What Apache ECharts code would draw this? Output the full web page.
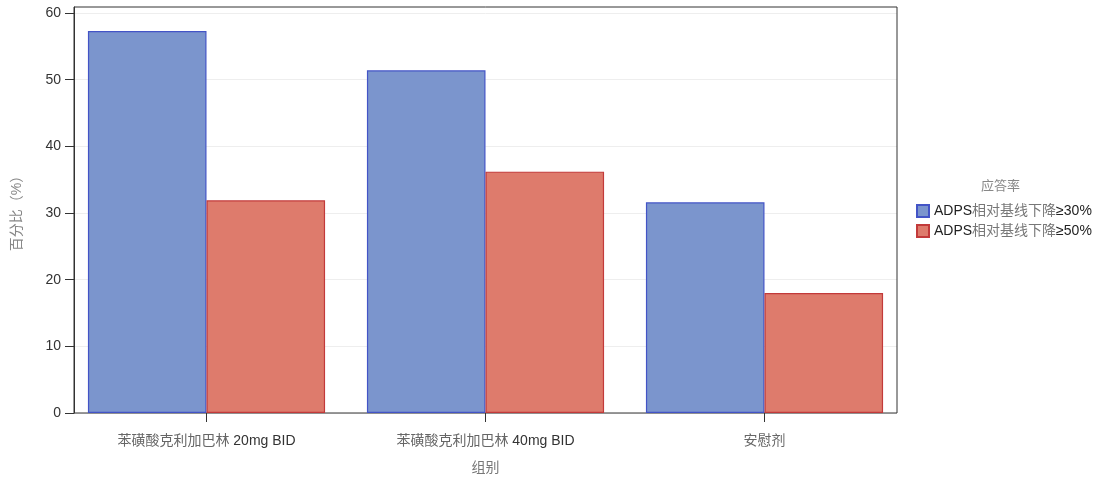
<!DOCTYPE html>
<html>
<head>
<meta charset="utf-8">
<script src="https://cdn.jsdelivr.net/npm/echarts@6/dist/echarts.min.js"></script>
<style>html,body{margin:0;padding:0;background:#fff}#c{width:1097px;height:484px}</style>
</head>
<body>
<div id="c"></div>
<script>
const categories = ['苯磺酸克利加巴林 20mg BID', '苯磺酸克利加巴林 40mg BID', '安慰剂'];
const seriesNames = ['ADPS相对基线下降≥30%', 'ADPS相对基线下降≥50%'];
const values30 = [57.3, 51.4, 31.6];
const values50 = [31.9, 36.2, 18.0];
const yTicks = [0, 10, 20, 30, 40, 50, 60];
const legendTitle = '应答率';
const yName = '百分比（%）';
const xName = '组别';

const FONT = '"Liberation Sans", "Noto Sans CJK SC", sans-serif';
const YMAX = 60.9;

// style CJK runs lighter, latin runs darker (as in the reference)
function richify(s) {
  return s.replace(/([\u3000-\u9fff\uff00-\uffef]+)|([^\u3000-\u9fff\uff00-\uffef]+)/g,
    (m, c, l) => c ? '{c|' + c + '}' : '{l|' + l + '}');
}
function richStyles(size, cjkColor, latinColor) {
  return {
    c: { color: cjkColor, fontSize: size, fontFamily: FONT },
    l: { color: latinColor, fontSize: size, fontFamily: FONT }
  };
}

const chart = echarts.init(document.getElementById('c'));
chart.setOption({
  animation: false,
  textStyle: { fontFamily: FONT },
  grid: [
    { left: 67, right: 193, top: 7, bottom: 71 },
    { left: 74, right: 200, top: 7, bottom: 71, show: true, borderColor: '#333', borderWidth: 1, backgroundColor: 'transparent', z: 1 }
  ],
  graphic: [{
    type: 'text', left: 981, top: 180,
    style: { text: legendTitle, fill: '#888', font: '13px ' + FONT }
  }],
  legend: {
    orient: 'vertical', left: 911, top: 199, itemWidth: 12, itemHeight: 12, itemGap: 6,
    icon: 'rect',
    formatter: n => richify(n),
    textStyle: { color: '#333', fontSize: 14, fontFamily: FONT, rich: richStyles(14, '#777', '#222') },
    data: seriesNames
  },
  xAxis: [
    {
      type: 'category', data: categories, gridIndex: 0,
      name: xName, nameLocation: 'middle', nameGap: 48,
      nameTextStyle: { color: '#777', fontSize: 14 },
      axisLine: { show: false },
      axisTick: { show: true, alignWithLabel: true, length: 9, lineStyle: { color: '#333' } },
      axisLabel: { color: '#444', fontSize: 14, margin: 21, formatter: v => richify(v), rich: richStyles(14, '#666', '#333') }
    },
    {
      type: 'value', gridIndex: 1, min: 0, max: 1,
      axisLine: { show: false }, axisTick: { show: false }, axisLabel: { show: false }, splitLine: { show: false }
    }
  ],
  yAxis: [
    {
      type: 'value', gridIndex: 0, min: 0, max: YMAX,
      axisLine: { show: false }, axisTick: { show: false }, axisLabel: { show: false }, splitLine: { show: false }
    },
    {
      type: 'value', gridIndex: 1, min: 0, max: YMAX, interval: 10,
      name: yName, nameLocation: 'middle', nameGap: 50, nameRotate: 90,
      nameTextStyle: { color: '#888', fontSize: 14 },
      axisLine: { show: true, lineStyle: { color: '#333' } },
      axisTick: { show: true, length: 9, lineStyle: { color: '#333' }, customValues: yTicks },
      axisLabel: { color: '#333', fontSize: 14, margin: 13, customValues: yTicks },
      splitLine: { show: true, lineStyle: { color: '#eeeeee' } }
    }
  ],
  series: [
    {
      name: seriesNames[0], type: 'bar', data: values30, xAxisIndex: 0, yAxisIndex: 0,
      barGap: '0%', barCategoryGap: '15%', z: 3,
      itemStyle: { color: '#7b95cd', borderColor: '#4354c6', borderWidth: 1.2 }
    },
    {
      name: seriesNames[1], type: 'bar', data: values50, xAxisIndex: 0, yAxisIndex: 0,
      barGap: '0%', barCategoryGap: '15%', z: 3,
      itemStyle: { color: '#de7b6c', borderColor: '#c23a3a', borderWidth: 1.2 }
    }
  ]
});
</script>
</body>
</html>
